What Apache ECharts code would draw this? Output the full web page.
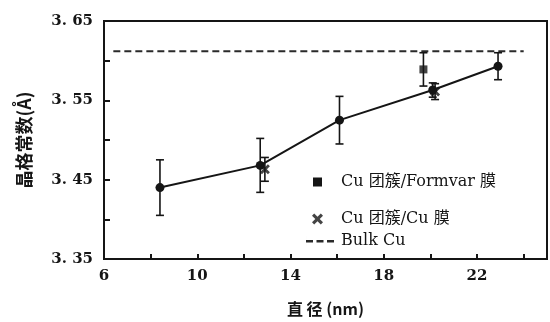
<!DOCTYPE html>
<html>
<head>
<meta charset="utf-8">
<script src="https://cdn.jsdelivr.net/npm/echarts@6/dist/echarts.min.js"></script>
<style>html,body{margin:0;padding:0;background:#fff;}#c{width:550px;height:322px;}</style>
</head>
<body>
<div id="c"></div>
<script>
// ---- data ----
const xTickLabels = [6, 10, 14, 18, 22];
const yTickValues = [3.35, 3.45, 3.55, 3.65];
const yTickLabels = ['3. 35', '3. 45', '3. 55', '3. 65'];

const nameFormvar = 'Cu 团簇/Formvar 膜';
const nameCuCu = 'Cu 团簇/Cu 膜';
const nameBulk = 'Bulk Cu';

const diamFormvar = [8.4, 12.7, 16.1, 20.1, 22.9];
const latticeFormvar = [3.440, 3.468, 3.525, 3.563, 3.593];
const errFormvar = [0.035, 0.034, 0.030, 0.009, 0.017];

const diamFormvarExtra = [19.7];
const latticeFormvarExtra = [3.589];
const errFormvarExtra = [0.021];

const diamCuCu = [12.9, 20.2];
const latticeCuCu = [3.463, 3.561];
const errCuCu = [0.015, 0.010];

const bulkDiam = [6.4, 24.0];
const bulkLattice = [3.612, 3.612];

// ---- build ----
const zip = (a, b) => a.map((v, i) => [v, b[i]]);
const errData = []
  .concat(diamFormvar.map((x, i) => [x, latticeFormvar[i] - errFormvar[i], latticeFormvar[i] + errFormvar[i]]))
  .concat(diamFormvarExtra.map((x, i) => [x, latticeFormvarExtra[i] - errFormvarExtra[i], latticeFormvarExtra[i] + errFormvarExtra[i]]))
  .concat(diamCuCu.map((x, i) => [x, latticeCuCu[i] - errCuCu[i], latticeCuCu[i] + errCuCu[i]]));

const xIcon = 'path://M0,2 L2,0 L5,3 L8,0 L10,2 L7,5 L10,8 L8,10 L5,7 L2,10 L0,8 L3,5 Z';
const dashIcon = 'path://M0,4 L7,4 L7,6.5 L0,6.5 Z M10.5,4 L17.5,4 L17.5,6.5 L10.5,6.5 Z M21,4 L28,4 L28,6.5 L21,6.5 Z M0,0 L0.01,0 L0.01,10 L0,10 Z';
const ink = '#151515';
const serif = '"DejaVu Serif", "Liberation Serif", serif';
const cjk = '"DejaVu Serif", "Noto Sans CJK SC", serif';

const chart = echarts.init(document.getElementById('c'), null, {renderer: 'canvas'});
chart.setOption({
  animation: false,
  backgroundColor: '#fff',
  grid: {left: 104, right: 3, top: 21, bottom: 59, show: true, borderColor: ink, borderWidth: 2, backgroundColor: 'transparent'},
  xAxis: {
    type: 'value', min: 6, max: 25, interval: 2,
    name: '直 径 (nm)', nameLocation: 'middle', nameGap: 42,
    nameTextStyle: {fontFamily: '"Noto Sans CJK SC", sans-serif', fontSize: 16, fontWeight: 'bold', color: ink},
    axisLine: {show: true, lineStyle: {color: ink, width: 2}},
    axisTick: {show: true, inside: true, length: 5, lineStyle: {color: ink, width: 2}},
    splitLine: {show: false},
    axisLabel: {
      color: ink, fontFamily: serif, fontSize: 15, fontWeight: 'bold', margin: 10,
      formatter: v => xTickLabels.indexOf(Math.round(v)) >= 0 && Math.abs(v - Math.round(v)) < 1e-6 ? String(Math.round(v)) : ''
    }
  },
  yAxis: {
    type: 'value', min: 3.35, max: 3.65, interval: 0.05,
    name: '晶格常数(Å)', nameLocation: 'middle', nameGap: 71, nameRotate: 90,
    nameTextStyle: {fontFamily: '"Noto Sans CJK SC", sans-serif', fontSize: 18, fontWeight: 'bold', color: ink},
    axisLine: {show: true, lineStyle: {color: ink, width: 2}},
    axisTick: {show: true, inside: true, length: 6, lineStyle: {color: ink, width: 2}},
    splitLine: {show: false},
    axisLabel: {
      color: ink, fontFamily: serif, fontSize: 15, fontWeight: 'bold', margin: 11,
      formatter: v => {
        for (let i = 0; i < yTickValues.length; i++) if (Math.abs(v - yTickValues[i]) < 1e-6) return yTickLabels[i];
        return '';
      }
    }
  },
  legend: [
    {data: [{name: nameFormvar, icon: 'rect'}], left: 308, top: 169, itemWidth: 9, itemHeight: 9,
     textStyle: {fontFamily: cjk, fontSize: 16, color: ink, padding: [0, 0, 0, 14]}, selectedMode: false},
    {data: [{name: nameCuCu, icon: xIcon}], left: 307, top: 206, itemWidth: 11, itemHeight: 11,
     textStyle: {fontFamily: cjk, fontSize: 16, color: ink, padding: [0, 0, 0, 13]}, selectedMode: false},
    {data: [{name: nameBulk, icon: dashIcon}], left: 301, top: 228, itemWidth: 28, itemHeight: 10,
     textStyle: {fontFamily: cjk, fontSize: 16, color: ink, padding: [0, 0, 0, 2]}, selectedMode: false}
  ],
  series: [
    {
      name: nameBulk, type: 'line', data: zip(bulkDiam, bulkLattice), symbol: 'none',
      lineStyle: {color: '#2a2a2a', width: 2, type: [7, 4]}, itemStyle: {color: '#2a2a2a'}, z: 1
    },
    {
      name: 'err', type: 'custom', data: errData, z: 2,
      renderItem: (params, api) => {
        const top = api.coord([api.value(0), api.value(2)]);
        const bot = api.coord([api.value(0), api.value(1)]);
        const hw = 4;
        const st = {stroke: ink, lineWidth: 1.6};
        return {type: 'group', children: [
          {type: 'line', shape: {x1: top[0], y1: top[1], x2: bot[0], y2: bot[1]}, style: st},
          {type: 'line', shape: {x1: top[0] - hw, y1: top[1], x2: top[0] + hw, y2: top[1]}, style: st},
          {type: 'line', shape: {x1: bot[0] - hw, y1: bot[1], x2: bot[0] + hw, y2: bot[1]}, style: st}
        ]};
      }
    },
    {
      name: nameFormvar, type: 'line', data: zip(diamFormvar, latticeFormvar),
      symbol: 'circle', symbolSize: 9, lineStyle: {color: ink, width: 2}, itemStyle: {color: ink}, z: 3
    },
    {
      name: nameFormvar, type: 'scatter', data: zip(diamFormvarExtra, latticeFormvarExtra),
      symbol: 'rect', symbolSize: 8, itemStyle: {color: ink}, z: 3
    },
    {
      name: nameCuCu, type: 'scatter', data: zip(diamCuCu, latticeCuCu),
      symbol: xIcon, symbolSize: 10, itemStyle: {color: ink}, z: 4
    }
  ]
});
</script>
</body>
</html>
